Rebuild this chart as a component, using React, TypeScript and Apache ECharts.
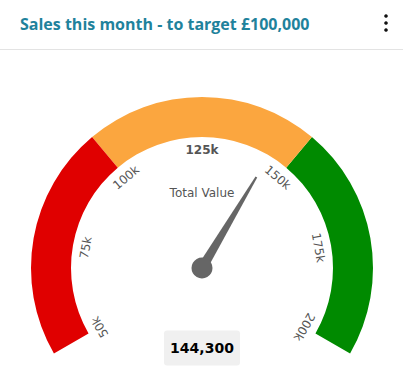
import React, { useEffect, useRef } from "react";
import * as echarts from "echarts";

const titleText = "Sales this month - to target £100,000";
const gaugeMin = 50000;
const gaugeMax = 200000;
const bandStops = [100000, 150000, 200000];
const bandColors = ["#E00000", "#FBA63F", "#008A00"];
const seriesName = "Total Value";
const seriesValue = 144300;

export default function App() {
  const ref = useRef<HTMLDivElement>(null);
  useEffect(() => {
    document.body.style.margin = "0";
    const chart = echarts.init(ref.current!, null, { renderer: "svg" });
    const span = gaugeMax - gaugeMin;
    const axisColors = bandStops.map((s, i) => [(s - gaugeMin) / span, bandColors[i]]);
    const mid = (gaugeMin + gaugeMax) / 2;
    chart.setOption({
      animation: false,
      backgroundColor: "#fff",
      title: {
        text: titleText,
        left: 15,
        top: 11,
        textStyle: {
          fontFamily: "Open Sans",
          fontSize: 16,
          fontWeight: 700,
          color: "#1f829c",
        },
      },
      graphic: [
        { type: "circle", shape: { cx: 386, cy: 16, r: 1.8 }, style: { fill: "#111" } },
        { type: "circle", shape: { cx: 386, cy: 23, r: 1.8 }, style: { fill: "#111" } },
        { type: "circle", shape: { cx: 386, cy: 30, r: 1.8 }, style: { fill: "#111" } },
        { type: "line", shape: { x1: 0, y1: 49.5, x2: 403, y2: 49.5 }, style: { stroke: "#e3e3e3", lineWidth: 1 } },
      ],
      series: [
        {
          type: "gauge",
          center: [202, 268],
          radius: 171,
          startAngle: 210,
          endAngle: -30,
          min: gaugeMin,
          max: gaugeMax,
          splitNumber: 6,
          axisLine: { lineStyle: { width: 40, color: axisColors } },
          splitLine: { show: false, length: 0, distance: 0 },
          axisTick: { show: false },
          axisLabel: {
            distance: 53,
            rotate: "tangential",
            color: "#555",
            fontSize: 12,
            fontFamily: "DejaVu Sans",
            formatter: (v: number) => {
              const t = Math.round(v / 1000) + "k";
              return Math.abs(v - mid) < 1 ? "{b|" + t + "}" : t;
            },
            rich: { b: { fontWeight: "bold", fontSize: 12, color: "#555", fontFamily: "DejaVu Sans" } },
          },
          pointer: {
            icon: "path://M4,0 L6,0 L10,100 L0,100 Z",
            length: 106,
            width: 10,
            itemStyle: { color: "#666" },
          },
          anchor: { show: true, showAbove: true, size: 21, itemStyle: { color: "#666" } },
          title: {
            offsetCenter: [0, -75],
            fontSize: 12,
            fontFamily: "DejaVu Sans",
            color: "#555",
          },
          detail: {
            offsetCenter: [0, 80],
            formatter: (v: number) => v.toLocaleString("en-US"),
            fontSize: 14,
            fontWeight: "bold",
            fontFamily: "DejaVu Sans",
            color: "#000",
            backgroundColor: "#f0f0f0",
            borderRadius: 3,
            padding: 0,
            width: 76,
            height: 35,
            lineHeight: 35,
            align: "center",
          },
          data: [{ name: seriesName, value: seriesValue }],
        },
      ],
    });
    return () => chart.dispose();
  }, []);
  return <div ref={ref} style={{ width: 403, height: 390 }} />;
}
